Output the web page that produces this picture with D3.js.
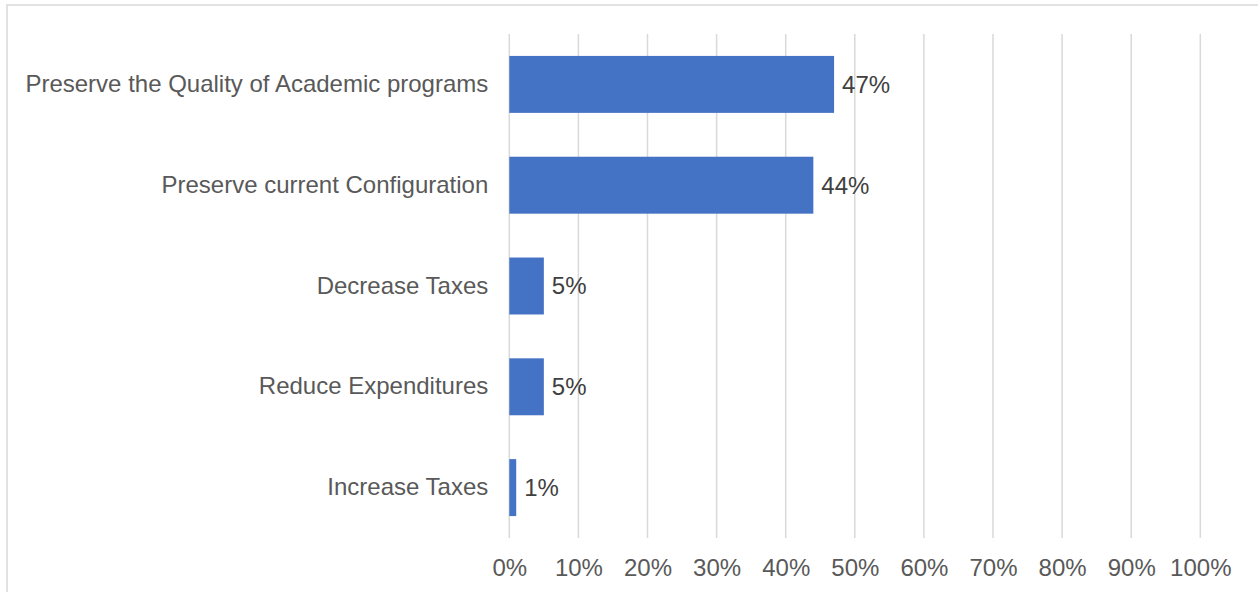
<!DOCTYPE html>
<html>
<head>
<meta charset="utf-8">
<script src="https://cdn.jsdelivr.net/npm/d3@7"></script>
<style>
  html, body { margin: 0; padding: 0; background: #fff; }
  svg { display: block; font-family: "Liberation Sans", Arial, sans-serif; }
</style>
</head>
<body>
<svg id="chart" width="1258" height="592"></svg>
<script>
// Survey priorities, share of respondents
const categories = [
  "Preserve the Quality of Academic programs",
  "Preserve current Configuration",
  "Decrease Taxes",
  "Reduce Expenditures",
  "Increase Taxes"
];
const values = [47, 44, 5, 5, 1];
const tickValues = [0, 10, 20, 30, 40, 50, 60, 70, 80, 90, 100];

const svg = d3.select("#chart");
const W = 1258, H = 592;
const FONT = "Liberation Sans, Arial, sans-serif";

// chart frame
svg.append("rect")
  .attr("x", 7).attr("y", 5)
  .attr("width", W + 10).attr("height", H + 10)
  .attr("fill", "#fff")
  .attr("stroke", "#D9D9D9")
  .attr("stroke-width", 1.5);

const plot = { left: 509.3, right: 1200.3, top: 34, bottom: 538 };

const x = d3.scaleLinear().domain([0, 100]).range([plot.left, plot.right]);
const y = d3.scaleBand().domain(categories).range([plot.top, plot.bottom]).paddingInner(0.435).paddingOuter(0.2175);

// vertical gridlines
svg.append("g")
  .selectAll("line")
  .data(tickValues)
  .join("line")
  .attr("x1", d => x(d)).attr("x2", d => x(d))
  .attr("y1", plot.top).attr("y2", plot.bottom)
  .attr("stroke", "#D9D9D9")
  .attr("stroke-width", 1.5);

// x axis tick labels
const xAxis = d3.axisBottom(x).tickValues(tickValues).tickSize(0).tickPadding(0)
  .tickFormat(d => d + "%");
const gx = svg.append("g")
  .attr("transform", `translate(0,${plot.bottom})`)
  .call(xAxis);
gx.select(".domain").remove();
gx.selectAll("text")
  .attr("y", 29.5)
  .attr("dy", "0.35em")
  .attr("fill", "#595959")
  .attr("font-size", "24px")
  .attr("font-family", FONT);

// category labels
const yAxis = d3.axisLeft(y).tickSize(0).tickPadding(21);
const gy = svg.append("g")
  .attr("transform", `translate(${plot.left},0)`)
  .call(yAxis);
gy.select(".domain").remove();
gy.selectAll("text")
  .attr("fill", "#595959")
  .attr("font-size", "24px")
  .attr("font-family", FONT);

// bars
const rows = categories.map((c, i) => ({ c, v: values[i] }));
svg.append("g")
  .selectAll("rect")
  .data(rows)
  .join("rect")
  .attr("x", x(0))
  .attr("y", d => y(d.c))
  .attr("width", d => x(d.v) - x(0))
  .attr("height", y.bandwidth())
  .attr("fill", "#4472C4");

// value labels
svg.append("g")
  .selectAll("text")
  .data(rows)
  .join("text")
  .attr("x", d => x(d.v) + 8)
  .attr("y", d => y(d.c) + y.bandwidth() / 2)
  .attr("dy", "0.35em")
  .attr("fill", "#404040")
  .attr("font-size", "24px")
  .attr("font-family", FONT)
  .text(d => d.v + "%");
</script>
</body>
</html>
